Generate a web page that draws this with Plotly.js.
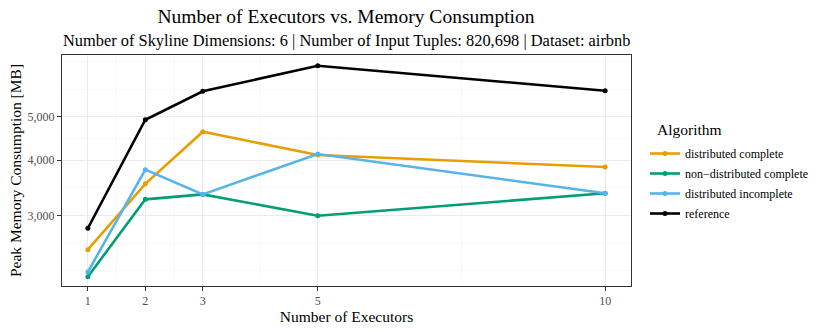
<!DOCTYPE html>
<html>
<head>
<meta charset="utf-8">
<script src="https://cdn.plot.ly/plotly-3.0.1.min.js"></script>
<style>
  html, body { margin: 0; padding: 0; background: #fff; }
  #chart { width: 830px; height: 332px; }
</style>
</head>
<body>
<div id="chart"></div>
<script>
// executors on x, peak memory (MB) per algorithm on y
const executors = [1, 2, 3, 5, 10];
const distributedComplete = [2512, 3535, 4633, 4106, 3858];
const nonDistributedComplete = [2184, 3262, 3347, 2995, 3366];
const distributedIncomplete = [2238, 3805, 3347, 4127, 3366];
const reference = [2808, 4930, 5712, 6523, 5730];

const seriesNames = ['distributed complete', 'non\u2212distributed complete', 'distributed incomplete', 'reference'];
const seriesValues = [distributedComplete, nonDistributedComplete, distributedIncomplete, reference];
const seriesColors = ['#E69F00', '#009E73', '#56B4E9', '#000000'];

const yTicks = [3000, 4000, 5000];
const yTickLabels = ['3,000', '4,000', '5,000'];

const serif = 'Liberation Serif, Times New Roman, serif';

let traces = seriesNames.map((name, i) => ({
    x: executors,
    y: seriesValues[i],
    name: name,
    legendgroup: 'g' + i,
    type: 'scatter',
    mode: 'lines+markers',
    line: { color: seriesColors[i], width: 2.6 },
    marker: { color: seriesColors[i], size: 5 }
}));

// ggplot style minor grid: midpoints between breaks (log space for y),
// extended one break step past the outer majors
const lg = v => Math.log10(v);
const yStep = lg(4000) - lg(3000);
const yMinor = [
    Math.pow(10, lg(3000) - yStep),
    Math.pow(10, lg(3000) - yStep / 2),
    Math.sqrt(3000 * 4000),
    Math.sqrt(4000 * 5000),
    Math.pow(10, lg(5000) + yStep / 2),
    Math.pow(10, lg(5000) + yStep)
];

let layout = {
    width: 830,
    height: 332,
    paper_bgcolor: '#ffffff',
    plot_bgcolor: '#ffffff',
    margin: { l: 62, r: 199, t: 55, b: 46 },
    font: { family: serif, color: '#000000' },
    title: {
        text: 'Number of Executors vs. Memory Consumption',
        font: { family: serif, size: 19.5, color: '#000000' },
        x: 346 / 830,
        xanchor: 'center',
        y: 1 - 16 / 332,
        yanchor: 'middle'
    },
    annotations: [{
        text: 'Number of Skyline Dimensions: 6 | Number of Input Tuples: 820,698 | Dataset: airbnb',
        xref: 'paper', yref: 'paper',
        x: 0.5, y: 1 + (55 - 40) / 231,
        xanchor: 'center', yanchor: 'middle',
        showarrow: false,
        font: { family: serif, size: 16.4, color: '#000000' }
    }, {
        text: 'Algorithm',
        xref: 'paper', yref: 'paper',
        x: (655 - 62) / 569, y: (286 - 129) / 231,
        xanchor: 'left', yanchor: 'middle',
        showarrow: false,
        font: { family: serif, size: 15.5, color: '#000000' }
    }],
    xaxis: {
        type: 'linear',
        range: [0.55, 10.45],
        tickmode: 'array',
        tickvals: executors,
        ticktext: executors.map(String),
        ticks: 'outside',
        ticklen: 4,
        tickcolor: '#333333',
        tickwidth: 1,
        tickfont: { family: serif, size: 12, color: '#4D4D4D' },
        showgrid: true,
        gridcolor: '#EBEBEB',
        gridwidth: 1,
        minor: { tickmode: 'array', tickvals: [1.5, 2.5, 4, 7.5], showgrid: true, gridcolor: '#F2F2F2', gridwidth: 0.6, ticks: '' },
        zeroline: false,
        showline: true,
        linecolor: '#333333',
        linewidth: 1,
        mirror: true,
        title: { text: 'Number of Executors', font: { family: serif, size: 15.5, color: '#000000' }, standoff: 1 }
    },
    yaxis: {
        type: 'log',
        range: [3.3183, 3.8386],
        tickmode: 'array',
        tickvals: yTicks,
        ticktext: yTickLabels,
        ticks: 'outside',
        ticklen: 4,
        tickcolor: '#333333',
        tickwidth: 1,
        tickfont: { family: serif, size: 12, color: '#4D4D4D' },
        showgrid: true,
        gridcolor: '#EBEBEB',
        gridwidth: 1,
        minor: { tickmode: 'array', tickvals: yMinor, showgrid: true, gridcolor: '#F2F2F2', gridwidth: 0.6, ticks: '' },
        zeroline: false,
        showline: true,
        linecolor: '#333333',
        linewidth: 1,
        mirror: true,
        title: { text: 'Peak Memory Consumption [MB]', font: { family: serif, size: 15.5, color: '#000000' }, standoff: 2 }
    },
    showlegend: true,
    legend: {
        x: (645 - 62) / 569,
        xanchor: 'left',
        y: (286 - 139) / 231,
        yanchor: 'top',
        bgcolor: 'rgba(0,0,0,0)',
        font: { family: serif, size: 12, color: '#000000' },
        itemwidth: 30,
        traceorder: 'grouped',
        tracegroupgap: 1
    }
};

Plotly.newPlot('chart', traces, layout, { displayModeBar: false, staticPlot: true });
</script>
</body>
</html>
